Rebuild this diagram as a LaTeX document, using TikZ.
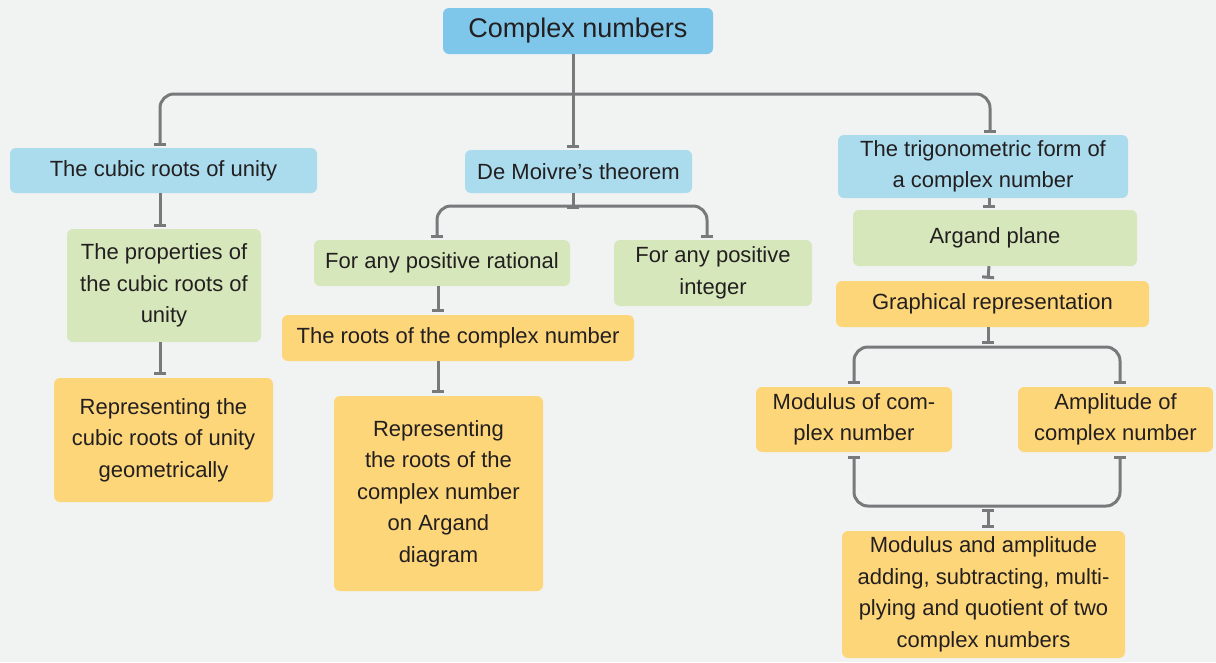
\documentclass[tikz,border=0pt]{standalone}
\usepackage{fontspec}
\setmainfont{Liberation Sans}
\usetikzlibrary{arrows.meta}
\definecolor{bg}{HTML}{F1F2F2}
\definecolor{cTop}{HTML}{7EC7EA}
\definecolor{cBlue}{HTML}{AADCEE}
\definecolor{cGreen}{HTML}{D6E8BB}
\definecolor{cYellow}{HTML}{FDD67A}
\definecolor{ln}{HTML}{77797B}
\definecolor{txt}{HTML}{231F20}
\begin{document}
\begin{tikzpicture}[x=1pt,y=-1pt,
  box/.style={rounded corners=6pt, align=center, inner sep=2pt, text=txt,
    font=\fontsize{22}{31.5}\selectfont},
  blue/.style={box, fill=cBlue},
  green/.style={box, fill=cGreen},
  yellow/.style={box, fill=cYellow},
  conn/.style={draw=ln, line width=3pt, rounded corners=14pt},
  tb/.style={conn, -{Bar[width=12pt]}},
  btb/.style={conn, {Bar[width=12pt]}-{Bar[width=12pt]}},
  bt/.style={conn, {Bar[width=12pt]}-},
]
\fill[bg] (0,0) rectangle (1216,662);
\useasboundingbox (0,0) rectangle (1216,662);

% nodes
\node[box, fill=cTop, minimum width=270pt, minimum height=46pt,
  font=\fontsize{27}{32}\selectfont] (top) at (578,31) {Complex numbers};
\node[blue, minimum width=307pt, minimum height=45pt] (cubic) at (163.5,170.5) {The cubic roots of unity};
\node[blue, minimum width=227pt, minimum height=43pt] (demoivre) at (578.5,171.5) {De Moivre’s theorem};
\node[blue, minimum width=290pt, minimum height=63pt] (trig) at (983,166.5) {The trigonometric form of\\a complex number};
\node[green, minimum width=194pt, minimum height=113pt] (props) at (164,285.5) {The properties of\\the cubic roots of\\unity};
\node[green, minimum width=256pt, minimum height=46pt] (rational) at (442,263) {For any positive rational};
\node[green, minimum width=198pt, minimum height=66pt] (integer) at (713,273) {For any positive\\integer};
\node[green, minimum width=284pt, minimum height=56pt] (argand) at (995,238) {Argand plane};
\node[yellow, minimum width=352pt, minimum height=46pt] (roots) at (458,338) {The roots of the complex number};
\node[yellow, minimum width=313pt, minimum height=46pt] (graph) at (992.5,304) {Graphical representation};
\node[yellow, minimum width=219pt, minimum height=124pt] (repcubic) at (163.5,440) {Representing the\\cubic roots of unity\\geometrically};
\node[yellow, minimum width=209pt, minimum height=195pt] (reproots) at (438.5,493.5) {Representing\\the roots of the\\complex number\\on Argand\\diagram};
\node[yellow, minimum width=196pt, minimum height=65pt] (modulus) at (854,419.5) {Modulus of com-\\plex number};
\node[yellow, minimum width=195pt, minimum height=65pt] (amplitude) at (1115.5,419.5) {Amplitude of\\complex number};
\node[yellow, minimum width=283pt, minimum height=127pt] (modamp) at (983.5,594.5) {Modulus and amplitude\\adding, subtracting, multi-\\plying and quotient of two\\complex numbers};

% bus coordinates
\coordinate (bus1) at (573,94);
\coordinate (bus2) at (573,206);
\coordinate (bus3) at (988,347);
\coordinate (bus4) at (988,506);

% connectors
\draw[tb] ([xshift=-5pt]top.south) -- ([xshift=-5.5pt,yshift=2pt]demoivre.north);
\draw[btb] ([xshift=-3.5pt,yshift=2pt]cubic.north) |- (bus1) -| ([xshift=7pt,yshift=2pt]trig.north);
\draw[tb] ([xshift=-3.5pt]cubic.south) -- ([xshift=-4pt,yshift=1.5pt]props.north);
\draw[tb] ([xshift=-4pt]props.south) -- ([xshift=-3.5pt,yshift=2.5pt]repcubic.north);

\draw[tb] ([xshift=-5.5pt]demoivre.south) -- ([yshift=-3pt]bus2);
\draw[btb] ([xshift=-5pt,yshift=2pt]rational.north) |- (bus2) -| ([xshift=-6pt,yshift=2pt]integer.north);
\draw[tb] ([xshift=-4pt]rational.south) -- ([xshift=-20pt,yshift=2.5pt]roots.north);
\draw[tb] ([xshift=-20pt]roots.south) -- ([xshift=-0.5pt,yshift=2.5pt]reproots.north);

\draw[tb] ([xshift=6pt]trig.south) -- ([xshift=-6pt,yshift=2pt]argand.north);
\draw[tb] ([xshift=-6pt]argand.south) -- ([xshift=-4.5pt,yshift=2pt]graph.north);
\draw[tb] ([xshift=-4.5pt]graph.south) -- ([yshift=3pt]bus3);
\draw[btb] ([yshift=2.5pt]modulus.north) |- (bus3) -| ([xshift=4.5pt,yshift=2.5pt]amplitude.north);
\draw[btb] ([yshift=-4pt]modulus.south) |- (bus4) -| ([xshift=4.5pt,yshift=-4pt]amplitude.south);
\draw[btb] ([yshift=-3pt]bus4) -- ([xshift=4.5pt,yshift=3pt]modamp.north);
\end{tikzpicture}
\end{document}
